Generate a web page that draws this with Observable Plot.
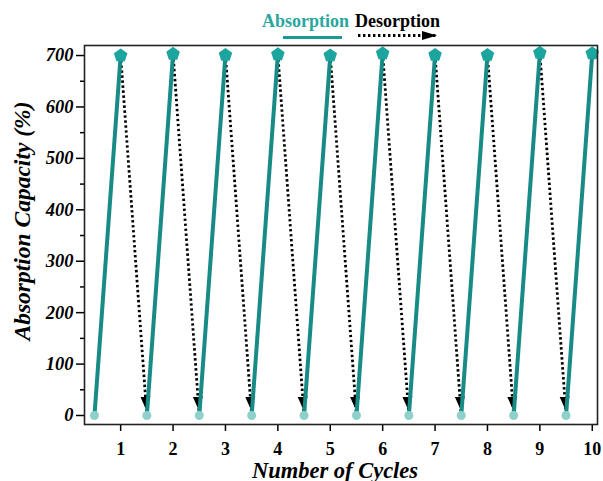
<!DOCTYPE html>
<html>
<head>
<meta charset="utf-8">
<script src="https://cdn.jsdelivr.net/npm/d3@7"></script>
<script src="https://cdn.jsdelivr.net/npm/@observablehq/plot@0.6"></script>
<style>
  body { margin: 0; background: #fff; }
  #wrap { position: relative; width: 603px; height: 481px; font-family: "Liberation Serif", serif; }
  #legend { position: absolute; left: 0; top: 0; width: 603px; height: 45px; pointer-events: none; }
</style>
</head>
<body>
<div id="wrap">
  <div id="chart"></div>
  <svg id="legend" width="603" height="45">
    <defs>
      <marker id="lgArrow" viewBox="-15 -5 15 10" markerWidth="15" markerHeight="10" refX="0" refY="0" orient="auto" markerUnits="userSpaceOnUse">
        <path d="M-15,-4.5L0,0L-15,4.5Z" fill="#000"></path>
      </marker>
    </defs>
    <text x="262" y="27" font-family="Liberation Serif" font-weight="bold" font-size="18" fill="#2aa69f">Absorption</text>
    <text x="355" y="27" font-family="Liberation Serif" font-weight="bold" font-size="18" fill="#000">Desorption</text>
    <line x1="283" y1="37.5" x2="342" y2="37.5" stroke="#1a9a93" stroke-width="3"></line>
    <line x1="358" y1="35.5" x2="437" y2="35.5" stroke="#000" stroke-width="2.8" stroke-dasharray="2.4,2.6" marker-end="url(#lgArrow)"></line>
  </svg>
</div>
<script>
// ---- data ----
const cycles = [1, 2, 3, 4, 5, 6, 7, 8, 9, 10];
const peaks = [700, 703, 701, 702, 700, 704, 701, 701, 705, 704];
const lowX = [0.5, 1.5, 2.5, 3.5, 4.5, 5.5, 6.5, 7.5, 8.5, 9.5];
const lowY = [0, 0, 0, 0, 0, 0, 0, 0, 0, 0];
const xTicks = [1, 2, 3, 4, 5, 6, 7, 8, 9, 10];
const yTicks = [0, 100, 200, 300, 400, 500, 600, 700];
const yMinor = [50, 150, 250, 350, 450, 550, 650];

const absorption = cycles.map((c, i) => ({x1: lowX[i], y1: lowY[i], x2: c, y2: peaks[i]}));
const desorption = cycles.slice(0, -1).map((c, i) => ({x1: c, y1: peaks[i], x2: lowX[i + 1], y2: lowY[i + 1]}));
const peakPts = cycles.map((c, i) => ({x: c, y: peaks[i]}));
const lowPts = lowX.map((x, i) => ({x, y: lowY[i]}));

const pentagon = {
  draw(context, size) {
    const r = Math.sqrt(size / Math.PI) * 1.15;
    for (let k = 0; k < 5; k++) {
      const a = -Math.PI / 2 + k * 2 * Math.PI / 5;
      const px = r * Math.cos(a), py = r * Math.sin(a);
      if (k === 0) context.moveTo(px, py); else context.lineTo(px, py);
    }
    context.closePath();
  }
};

function arrowMarker(color, context) {
  const m = d3.create("svg:marker")
    .attr("viewBox", "-14 -6 14 12")
    .attr("markerWidth", 14)
    .attr("markerHeight", 12)
    .attr("refX", 5)
    .attr("refY", 0)
    .attr("orient", "auto")
    .attr("markerUnits", "userSpaceOnUse")
    .attr("stroke-dasharray", "none");
  m.append("path").attr("d", "M-14,-5L0,0L-14,5Z").attr("fill", "#000").attr("stroke", "none");
  return m.node();
}

const font = "Liberation Serif";
const chart = Plot.plot({
  width: 603,
  height: 481,
  marginLeft: 84,
  marginRight: 6,
  marginTop: 45,
  marginBottom: 57,
  style: {fontFamily: font, background: "#fff"},
  x: {domain: [0.31, 10.1]},
  y: {domain: [-17.5, 719.5]},
  marks: [
    Plot.axisX(xTicks, {tickSize: 7, tickPadding: 11, fontSize: 18, fontWeight: "bold", fontFamily: font, fill: "#000", strokeWidth: 1.5, label: null, tickFormat: d => d}),
    Plot.axisY(yTicks, {tickSize: 8, tickPadding: 3, fontSize: 18.5, fontWeight: "bold", fontStyle: "italic", fontFamily: font, fill: "#000", strokeWidth: 1.5, label: null}),
    Plot.axisY(yMinor, {tickSize: 4, text: null, strokeWidth: 1.5, label: null}),
    Plot.link(desorption, {x1: "x1", y1: "y1", x2: "x2", y2: "y2", stroke: "#000", strokeWidth: 2.8, strokeDasharray: "2.4,2.6", markerEnd: arrowMarker}),
    Plot.link(absorption, {x1: "x1", y1: "y1", x2: "x2", y2: "y2", stroke: "#198b86", strokeWidth: 4}),
    Plot.dot(lowPts, {x: "x", y: "y", r: 4.5, fill: "#8fd0cb", stroke: "none"}),
    Plot.dot(peakPts, {x: "x", y: "y", r: 6.2, symbol: pentagon, fill: "#1ba59e", stroke: "none"}),
    Plot.frame({stroke: "#222", strokeWidth: 1.6}),
    Plot.text(["Number of Cycles"], {frameAnchor: "bottom", dy: 53, dx: -6, lineAnchor: "bottom", fontSize: 22.5, fontWeight: "bold", fontStyle: "italic", fontFamily: font, fill: "#000"}),
    Plot.text(["Absorption Capacity (%)"], {frameAnchor: "left", textAnchor: "middle", dx: -62, dy: -14, rotate: -90, fontSize: 23.5, fontWeight: "bold", fontStyle: "italic", fontFamily: font, fill: "#000"})
  ]
});
document.getElementById("chart").appendChild(chart);
</script>
</body>
</html>
